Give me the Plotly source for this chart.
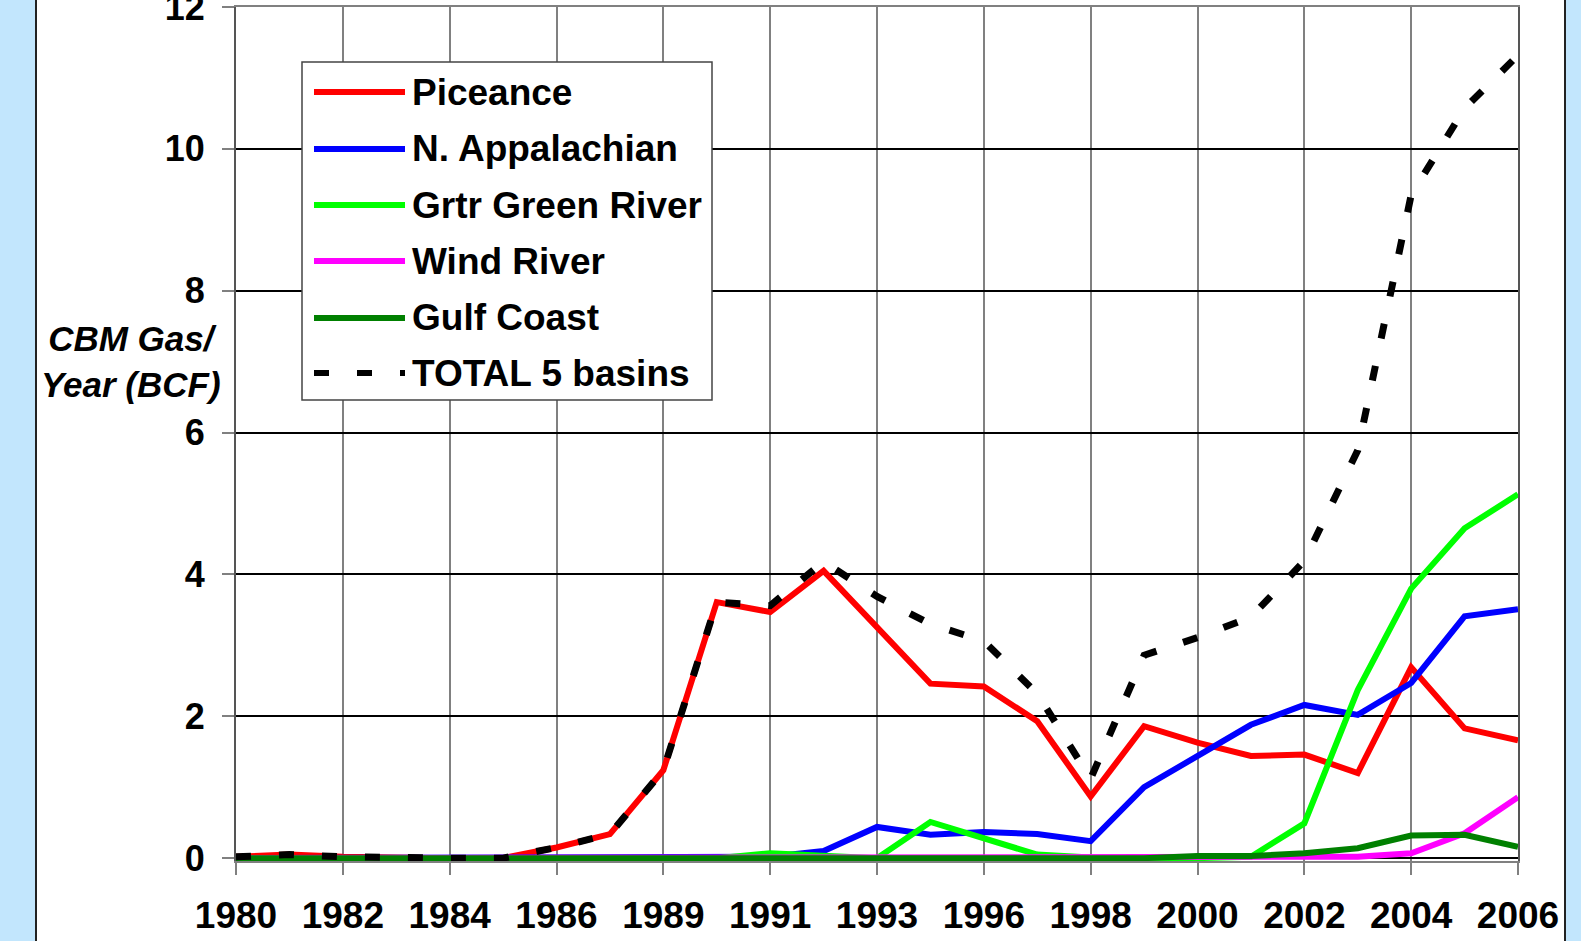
import plotly.graph_objects as go

# category labels (two years are missing in the source chart)
years = ['1980', '1981', '1982', '1983', '1984', '1985', '1986', '1987',
         '1989', '1990', '1991', '1992', '1993', '1994', '1996', '1997',
         '1998', '1999', '2000', '2001', '2002', '2003', '2004', '2005', '2006']

piceance = [0.02, 0.05, 0.02, 0, 0, 0, 0.15, 0.34, 1.24, 3.61, 3.47, 4.05, 3.25,
            2.46, 2.42, 1.93, 0.87, 1.86, 1.63, 1.44, 1.46, 1.20, 2.69, 1.83, 1.66]
n_appalachian = [0, 0, 0, 0, 0, 0, 0, 0, 0, 0, 0.02, 0.10, 0.44,
                 0.33, 0.37, 0.34, 0.24, 1.00, 1.45, 1.88, 2.16, 2.02, 2.47, 3.41, 3.51]
green_river = [0, 0, 0, 0, 0, 0, 0, 0, 0, 0, 0.07, 0.03, 0,
               0.51, 0.27, 0.05, 0.01, 0, 0, 0.02, 0.49, 2.37, 3.80, 4.65, 5.13]
wind_river = [0, 0, 0, 0, 0, 0, 0, 0, 0, 0, 0, 0, 0,
              0, 0, 0, 0, 0, 0, 0, 0.01, 0.02, 0.07, 0.35, 0.86]
gulf_coast = [0, 0, 0, 0, 0, 0, 0, 0, 0, 0, 0, 0, 0,
              0, 0, 0, 0, 0, 0.03, 0.03, 0.07, 0.14, 0.32, 0.33, 0.16]
total = [0.02, 0.05, 0.02, 0, 0, 0, 0.15, 0.34, 1.24, 3.61, 3.56, 4.18, 3.69,
         3.30, 3.06, 2.32, 1.12, 2.86, 3.11, 3.40, 4.19, 5.75, 9.35, 10.57, 11.32]

names = ['Piceance', 'N. Appalachian', 'Grtr Green River', 'Wind River',
         'Gulf Coast', 'TOTAL 5 basins']
colors = ['#ff0000', '#0000ff', '#00ff00', '#ff00ff', '#008000', '#000000']
series = [piceance, n_appalachian, green_river, wind_river, gulf_coast, total]

FONT = 'Arial, Liberation Sans, sans-serif'
DASH = '15px,28px'

# plot area in pixels (for placing the hand-made legend / panel)
W, H = 1581, 941
L, R, T, B = 236, 1518, 7, 861


def px_x(px):
    return (px - L) / (R - L)


def px_y(py):
    return (B - py) / (B - T)


fig = go.Figure()

for name, color, vals in zip(names, colors, series):
    dashed = name.startswith('TOTAL')
    fig.add_trace(go.Scatter(
        x=years, y=vals, name=name, mode='lines',
        line=dict(color=color, width=7 if dashed else 6,
                  dash=DASH if dashed else 'solid'),
        showlegend=False,
    ))

shapes = [
    # white panel over the light blue page
    dict(type='rect', xref='paper', yref='paper', layer='below',
         x0=px_x(36), x1=px_x(1565), y0=px_y(H + 20), y1=px_y(-20),
         fillcolor='white', line=dict(color='#222222', width=2)),
    # legend box
    dict(type='rect', xref='paper', yref='paper', layer='above',
         x0=px_x(302), x1=px_x(712), y0=px_y(400), y1=px_y(62),
         fillcolor='white', line=dict(color='#444444', width=1.5)),
]
annotations = []
row_y = [92, 149, 205, 261, 318, 373]
for name, color, ry in zip(names, colors, row_y):
    dashed = name.startswith('TOTAL')
    shapes.append(dict(type='line', xref='paper', yref='paper', layer='above',
                       x0=px_x(314), x1=px_x(405), y0=px_y(ry), y1=px_y(ry),
                       line=dict(color=color, width=6,
                                 dash=DASH if dashed else 'solid')))
    annotations.append(dict(xref='paper', yref='paper', x=px_x(410), y=px_y(ry),
                            xanchor='left', yanchor='middle', showarrow=False,
                            text='<b>%s</b>' % name,
                            font=dict(family=FONT, size=37, color='black')))

annotations.append(dict(xref='paper', yref='paper', x=px_x(131), y=px_y(361),
                        xanchor='center', yanchor='middle', showarrow=False,
                        text='<b><i>CBM Gas/</i></b><br><b><i>Year (BCF)</i></b>',
                        font=dict(family=FONT, size=35, color='black')))

fig.update_layout(
    width=W, height=H,
    margin=dict(l=L, r=W - R, t=T, b=H - B, pad=0, autoexpand=False),
    paper_bgcolor='#c2e6fd',
    plot_bgcolor='white',
    shapes=shapes,
    annotations=annotations,
    showlegend=False,
)

fig.update_xaxes(
    type='category', range=[0, len(years) - 1], automargin=False,
    tickmode='array', tickvals=years[::2], ticktext=years[::2],
    showgrid=True, gridcolor='#808080', gridwidth=1.5,
    showline=True, linecolor='#808080', linewidth=2, mirror=True,
    ticks='outside', ticklen=12, tickwidth=1.5, tickcolor='#808080',
    ticklabelstandoff=9, ticklabeloverflow='allow',
    tickfont=dict(family=FONT, size=37, color='black', weight='bold'),
)
fig.update_yaxes(
    range=[-0.04, 12], tickvals=[0, 2, 4, 6, 8, 10, 12], automargin=False,
    showgrid=True, gridcolor='black', gridwidth=2, zeroline=False,
    showline=True, linecolor='#555555', linewidth=2, mirror=True,
    ticks='outside', ticklen=12, tickwidth=1.5, tickcolor='#808080',
    ticklabelstandoff=10, ticklabeloverflow='allow',
    tickfont=dict(family=FONT, size=36, color='black', weight='bold'),
)

# page body has an 8px default margin; drop it so the figure fills the window
fig.write_html('out.html', config={'displayModeBar': False},
               post_script="document.body.style.margin='0';")
